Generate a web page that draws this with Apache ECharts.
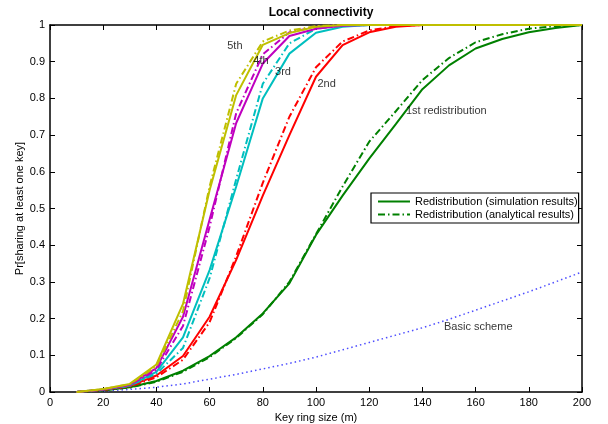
<!DOCTYPE html>
<html>
<head>
<meta charset="utf-8">
<script src="https://cdn.jsdelivr.net/npm/echarts@6/dist/echarts.min.js"></script>
<style>
  html, body { margin: 0; padding: 0; background: #fff; }
  #chart { width: 608px; height: 424px; }
</style>
</head>
<body>
<div id="chart"></div>
<script>
// key ring size (m)
var keyRing = [10, 20, 30, 40, 50, 60, 70, 80, 90, 100, 110, 120, 130, 140, 150, 160, 170, 180, 190, 200];

// 1st redistribution
var sim1 = [0, 0.005, 0.013, 0.03, 0.058, 0.098, 0.149, 0.214, 0.296, 0.428, 0.535, 0.636, 0.73, 0.825, 0.89, 0.936, 0.962, 0.98, 0.992, 1];
var ana1 = [0, 0.005, 0.012, 0.028, 0.055, 0.095, 0.147, 0.212, 0.3, 0.43, 0.56, 0.682, 0.765, 0.85, 0.91, 0.953, 0.975, 0.99, 0.997, 1];
// 2nd
var sim2 = [0, 0.006, 0.016, 0.045, 0.098, 0.205, 0.36, 0.535, 0.7, 0.859, 0.945, 0.98, 0.995, 1, 1, 1, 1, 1, 1, 1];
var ana2 = [0, 0.006, 0.015, 0.04, 0.088, 0.19, 0.37, 0.57, 0.75, 0.885, 0.955, 0.985, 0.997, 1, 1, 1, 1, 1, 1, 1];
// 3rd
var sim3 = [0, 0.007, 0.018, 0.055, 0.149, 0.332, 0.56, 0.8, 0.922, 0.979, 0.995, 1, 1, 1, 1, 1, 1, 1, 1, 1];
var ana3 = [0, 0.007, 0.017, 0.05, 0.12, 0.31, 0.58, 0.84, 0.95, 0.99, 0.998, 1, 1, 1, 1, 1, 1, 1, 1, 1];
// 4th
var sim4 = [0, 0.007, 0.02, 0.065, 0.205, 0.47, 0.733, 0.895, 0.97, 0.99, 0.998, 1, 1, 1, 1, 1, 1, 1, 1, 1];
var ana4 = [0, 0.007, 0.019, 0.06, 0.18, 0.45, 0.76, 0.92, 0.98, 0.995, 1, 1, 1, 1, 1, 1, 1, 1, 1, 1];
// 5th
var sim5 = [0, 0.008, 0.022, 0.075, 0.24, 0.55, 0.809, 0.946, 0.978, 0.995, 1, 1, 1, 1, 1, 1, 1, 1, 1, 1];
var ana5 = [0, 0.008, 0.021, 0.07, 0.22, 0.56, 0.84, 0.955, 0.985, 0.997, 1, 1, 1, 1, 1, 1, 1, 1, 1, 1];
// basic scheme
var basic = [0, 0.003, 0.007, 0.013, 0.022, 0.035, 0.048, 0.063, 0.078, 0.095, 0.115, 0.135, 0.155, 0.175, 0.198, 0.223, 0.248, 0.273, 0.3, 0.327];

// curve annotations
var noteText = ["5th", "4th", "3rd", "2nd", "1st redistribution", "Basic scheme"];
var noteX = [69.5, 79.3, 87.6, 104, 149, 161];
var noteY = [0.943, 0.902, 0.872, 0.839, 0.766, 0.177];

var font = "Liberation Sans, Arial, Helvetica, sans-serif";
var dashDot = [7, 3, 1.5, 3];

function pairs(ys) {
  var arr = [];
  for (var i = 0; i < keyRing.length; i++) {
    arr.push([keyRing[i], ys[i]]);
  }
  return arr;
}

function line(name, ys, color, type, width) {
  return {
    name: name,
    type: "line",
    symbol: "none",
    silent: true,
    data: pairs(ys),
    lineStyle: { color: color, width: width || 2, type: type },
    itemStyle: { color: color },
    z: 3
  };
}

var notes = [];
for (var i = 0; i < noteText.length; i++) {
  notes.push({ name: noteText[i], value: [noteX[i], noteY[i]] });
}

var myChart = echarts.init(document.getElementById("chart"));
var axisTick = { show: true, inside: true, length: 5, lineStyle: { color: "#000" } };
var axisLine = { show: true, onZero: false, lineStyle: { color: "#000", width: 1.5 } };
var option = {
  animation: false,
  backgroundColor: "#fff",
  textStyle: { fontFamily: font },
  title: {
    text: "Local connectivity",
    left: 316,
    textAlign: "center",
    top: 2,
    textStyle: { fontSize: 12, fontWeight: "bold", color: "#000", fontFamily: font }
  },
  legend: {
    data: ["Redistribution (simulation results)", "Redistribution (analytical results)"],
    orient: "vertical",
    left: 371,
    top: 193,
    itemWidth: 32,
    itemHeight: 10,
    itemGap: 2,
    padding: [3, 1, 3, 6],
    borderColor: "#000",
    borderWidth: 1.2,
    backgroundColor: "#fff",
    itemStyle: { opacity: 0 },
    textStyle: { fontSize: 11, color: "#000", fontFamily: font }
  },
  grid: { left: 50, right: 26, top: 25, bottom: 32, outerBoundsMode: "none" },
  xAxis: [
    {
      type: "value",
      min: 0,
      max: 200,
      interval: 20,
      name: "Key ring size (m)",
      nameLocation: "middle",
      nameGap: 20,
      nameMoveOverlap: false,
      nameTextStyle: { fontSize: 11, color: "#000" },
      axisLine: axisLine,
      axisTick: axisTick,
      axisLabel: { fontSize: 11, color: "#000", margin: 5 },
      splitLine: { show: false }
    },
    {
      type: "value",
      position: "top",
      min: 0,
      max: 200,
      interval: 20,
      axisLine: axisLine,
      axisTick: axisTick,
      axisLabel: { show: false },
      splitLine: { show: false }
    }
  ],
  yAxis: [
    {
      type: "value",
      min: 0,
      max: 1,
      interval: 0.1,
      name: "Pr[sharing at least one key]",
      nameLocation: "middle",
      nameGap: 25,
      nameMoveOverlap: false,
      nameTextStyle: { fontSize: 11, color: "#000" },
      axisLine: axisLine,
      axisTick: axisTick,
      axisLabel: { fontSize: 11, color: "#000", margin: 5 },
      splitLine: { show: false }
    },
    {
      type: "value",
      position: "right",
      min: 0,
      max: 1,
      interval: 0.1,
      axisLine: axisLine,
      axisTick: axisTick,
      axisLabel: { show: false },
      splitLine: { show: false }
    }
  ],
  series: [
    line("Basic scheme", basic, "#4d4dff", [1.5, 3], 1.5),
    line("Redistribution (simulation results)", sim1, "#008000", "solid"),
    line("Redistribution (analytical results)", ana1, "#008000", dashDot),
    line("2nd sim", sim2, "#ff0000", "solid"),
    line("2nd ana", ana2, "#ff0000", dashDot),
    line("3rd sim", sim3, "#00bfbf", "solid"),
    line("3rd ana", ana3, "#00bfbf", dashDot),
    line("4th sim", sim4, "#bf00bf", "solid"),
    line("4th ana", ana4, "#bf00bf", dashDot),
    line("5th sim", sim5, "#bfbf00", "solid"),
    line("5th ana", ana5, "#bfbf00", dashDot),
    {
      name: "notes",
      type: "scatter",
      symbolSize: 0,
      silent: true,
      data: notes,
      z: 5,
      label: {
        show: true,
        position: "inside",
        formatter: "{b}",
        fontSize: 11,
        color: "#000",
        fontFamily: font
      }
    }
  ]
};
myChart.setOption(option);
</script>
</body>
</html>
